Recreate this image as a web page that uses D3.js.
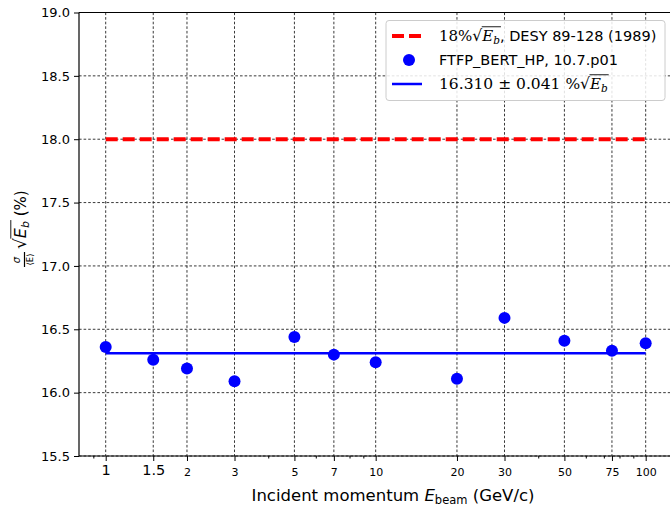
<!DOCTYPE html>
<html>
<head>
<meta charset="utf-8">
<script src="https://cdnjs.cloudflare.com/ajax/libs/d3/7.8.5/d3.min.js"></script>
<style>
  body { margin: 0; background: #fff; }
  svg { display: block; }
  text { font-family: "DejaVu Sans", sans-serif; fill: #000; white-space: pre; }
</style>
</head>
<body>
<script>
// data
const momenta = [1, 1.5, 2, 3, 5, 7, 10, 20, 30, 50, 75, 100]
const resolution = [16.36, 16.26, 16.19, 16.09, 16.44, 16.30, 16.24, 16.11, 16.59, 16.41, 16.33, 16.39]
const fitValue = 16.31
const desyValue = 18.0
const xTicks = [1, 1.5, 2, 3, 5, 7, 10, 20, 30, 50, 75, 100]
const xMinorTicks = [0.9, 4, 6, 8, 9, 40, 60, 70, 80, 90]
const yTicks = [15.5, 16.0, 16.5, 17.0, 17.5, 18.0, 18.5, 19.0]

const W = 670, H = 507
const margin = {top: 12.5, left: 79, bottom: 456, right: 707}

const svg = d3.select('body').append('svg')
    .attr('width', W)
    .attr('height', H)

const xScale = d3.scaleLog()
    .domain([0.7964, 168.7])
    .range([margin.left, margin.right])

const yScale = d3.scaleLinear()
    .domain([15.5, 19.0])
    .range([margin.bottom, margin.top])

// grid
const grid = svg.append('g')
grid.selectAll('.vg').data(xTicks).enter().append('line')
    .attr('x1', d => xScale(d)).attr('x2', d => xScale(d))
    .attr('y1', margin.top).attr('y2', margin.bottom)
    .attr('stroke', '#222').attr('stroke-width', 0.9).attr('stroke-dasharray', '2.6,2')
grid.selectAll('.hg').data(yTicks).enter().append('line')
    .attr('x1', margin.left).attr('x2', margin.right)
    .attr('y1', d => yScale(d)).attr('y2', d => yScale(d))
    .attr('stroke', '#222').attr('stroke-width', 0.9).attr('stroke-dasharray', '2.6,2')

// reference line (DESY)
svg.append('line')
    .attr('x1', xScale(momenta[0])).attr('x2', xScale(momenta[momenta.length - 1]))
    .attr('y1', yScale(desyValue)).attr('y2', yScale(desyValue))
    .attr('stroke', '#ff0000').attr('stroke-width', 4).attr('stroke-dasharray', '12,5')

// fit line
svg.append('line')
    .attr('x1', xScale(momenta[0])).attr('x2', xScale(momenta[momenta.length - 1]))
    .attr('y1', yScale(fitValue)).attr('y2', yScale(fitValue))
    .attr('stroke', '#0000ff').attr('stroke-width', 2.5)

// points
svg.selectAll('.dot').data(momenta).enter().append('circle')
    .attr('cx', d => xScale(d))
    .attr('cy', (d, i) => yScale(resolution[i]))
    .attr('r', 6)
    .attr('fill', '#0000ff')

// axes
const xAxis = svg.append('g')
    .attr('transform', 'translate(0,' + margin.bottom + ')')
    .call(d3.axisBottom(xScale).tickValues(xTicks).tickSize(5).tickPadding(4)
        .tickFormat(d => String(d)))
xAxis.select('.domain').remove()
xAxis.selectAll('.tick text')
    .style('font-size', d => (d < 2 ? '14.5px' : '11px'))
    .attr('y', d => (d < 2 ? 9 : 12))
    .attr('font-family', null)

const xMinor = svg.append('g')
    .attr('transform', 'translate(0,' + margin.bottom + ')')
    .call(d3.axisBottom(xScale).tickValues(xMinorTicks).tickSize(2.5).tickFormat(''))
xMinor.select('.domain').remove()

const yAxis = svg.append('g')
    .attr('transform', 'translate(' + margin.left + ',0)')
    .call(d3.axisLeft(yScale).tickValues(yTicks).tickSize(5).tickPadding(4)
        .tickFormat(d3.format('.1f')))
yAxis.select('.domain').remove()
yAxis.selectAll('.tick text').style('font-size', '13px').attr('font-family', null)

// spines
svg.append('line').attr('x1', margin.left).attr('x2', margin.left)
    .attr('y1', margin.top).attr('y2', margin.bottom).attr('stroke', '#000').attr('stroke-width', 1.2)
svg.append('line').attr('x1', margin.left).attr('x2', margin.right)
    .attr('y1', margin.top).attr('y2', margin.top).attr('stroke', '#000').attr('stroke-width', 1.2)
svg.append('line').attr('x1', margin.left).attr('x2', margin.right)
    .attr('y1', margin.bottom).attr('y2', margin.bottom).attr('stroke', '#000').attr('stroke-width', 1.2)

// writes a row of text pieces one after the other, returns total width
function rich(g, x, y, parts) {
  let cx = x
  let ovStart = null, ovEnd = null, ovY = null
  parts.forEach(p => {
    const t = g.append('text')
        .attr('x', cx).attr('y', y + (p.dy || 0))
        .style('font-family', p.f || '"DejaVu Sans", sans-serif')
        .style('font-size', p.s + 'px')
        .style('font-style', p.i ? 'italic' : 'normal')
        .text(p.t)
    const w = t.node().getComputedTextLength()
    if (p.ov) {
      if (ovStart === null) { ovStart = cx; ovY = y - p.s * 0.95 }
      ovEnd = cx + w
    }
    cx += w + (p.gap || 0)
  })
  if (ovStart !== null) {
    g.append('line').attr('x1', ovStart - 0.5).attr('x2', ovEnd + 1)
        .attr('y1', ovY).attr('y2', ovY).attr('stroke', '#000').attr('stroke-width', 0.9)
  }
  return cx - x
}

// x label
const xl = svg.append('g')
const xlw = rich(xl, 0, 501, [
  {t: 'Incident momentum ', s: 16.5},
  {t: 'E', s: 16.5, i: true},
  {t: 'beam', s: 11.5, dy: 3},
  {t: ' (GeV/c)', s: 16.5}
])
xl.attr('transform', 'translate(' + (393 - xlw / 2) + ',0)')

// y label (rotated)
const yl = svg.append('g').attr('transform', 'rotate(-90)')
yl.append('text').attr('x', -260).attr('y', 20).attr('text-anchor', 'middle')
    .style('font-size', '10px').style('font-style', 'italic').text('σ')
yl.append('line').attr('x1', -267).attr('x2', -252).attr('y1', 24.5).attr('y2', 24.5)
    .attr('stroke', '#000').attr('stroke-width', 1.2)
yl.append('text').attr('x', -259.5).attr('y', 33).attr('text-anchor', 'middle')
    .style('font-size', '8.5px').text('⟨E⟩')
rich(yl, -249, 26, [
  {t: '√', s: 17},
  {t: 'E', s: 16, i: true, ov: true},
  {t: 'b', s: 11, i: true, dy: 3, ov: true},
  {t: ' (%)', s: 15}
])

// legend
const serif = '"DejaVu Serif", "Liberation Serif", serif'
const leg = svg.append('g')
leg.append('rect')
    .attr('x', 386).attr('y', 20.5).attr('width', 279).attr('height', 80).attr('rx', 3)
    .attr('fill', '#fff').attr('fill-opacity', 0.85).attr('stroke', '#ccc')
leg.append('line').attr('x1', 392).attr('x2', 422).attr('y1', 36).attr('y2', 36)
    .attr('stroke', '#ff0000').attr('stroke-width', 4).attr('stroke-dasharray', '12,5')
leg.append('circle').attr('cx', 409).attr('cy', 60).attr('r', 6).attr('fill', '#0000ff')
leg.append('line').attr('x1', 392).attr('x2', 422).attr('y1', 84).attr('y2', 84)
    .attr('stroke', '#0000ff').attr('stroke-width', 2.5)

rich(leg, 439, 41, [
  {t: '18%', s: 15, f: serif},
  {t: '√', s: 15.5, f: serif},
  {t: 'E', s: 15, f: serif, i: true, ov: true},
  {t: 'b', s: 10.5, f: serif, i: true, dy: 3, ov: true},
  {t: ', DESY 89-128 (1989)', s: 14.5}
])
rich(leg, 439, 65, [
  {t: 'FTFP_BERT_HP, 10.7.p01', s: 14.5}
])
rich(leg, 439, 89, [
  {t: fitValue.toFixed(3) + ' ± 0.041 %', s: 15.5, f: serif},
  {t: '√', s: 15.5, f: serif},
  {t: 'E', s: 15, f: serif, i: true, ov: true},
  {t: 'b', s: 10.5, f: serif, i: true, dy: 3, ov: true}
])
</script>
</body>
</html>
